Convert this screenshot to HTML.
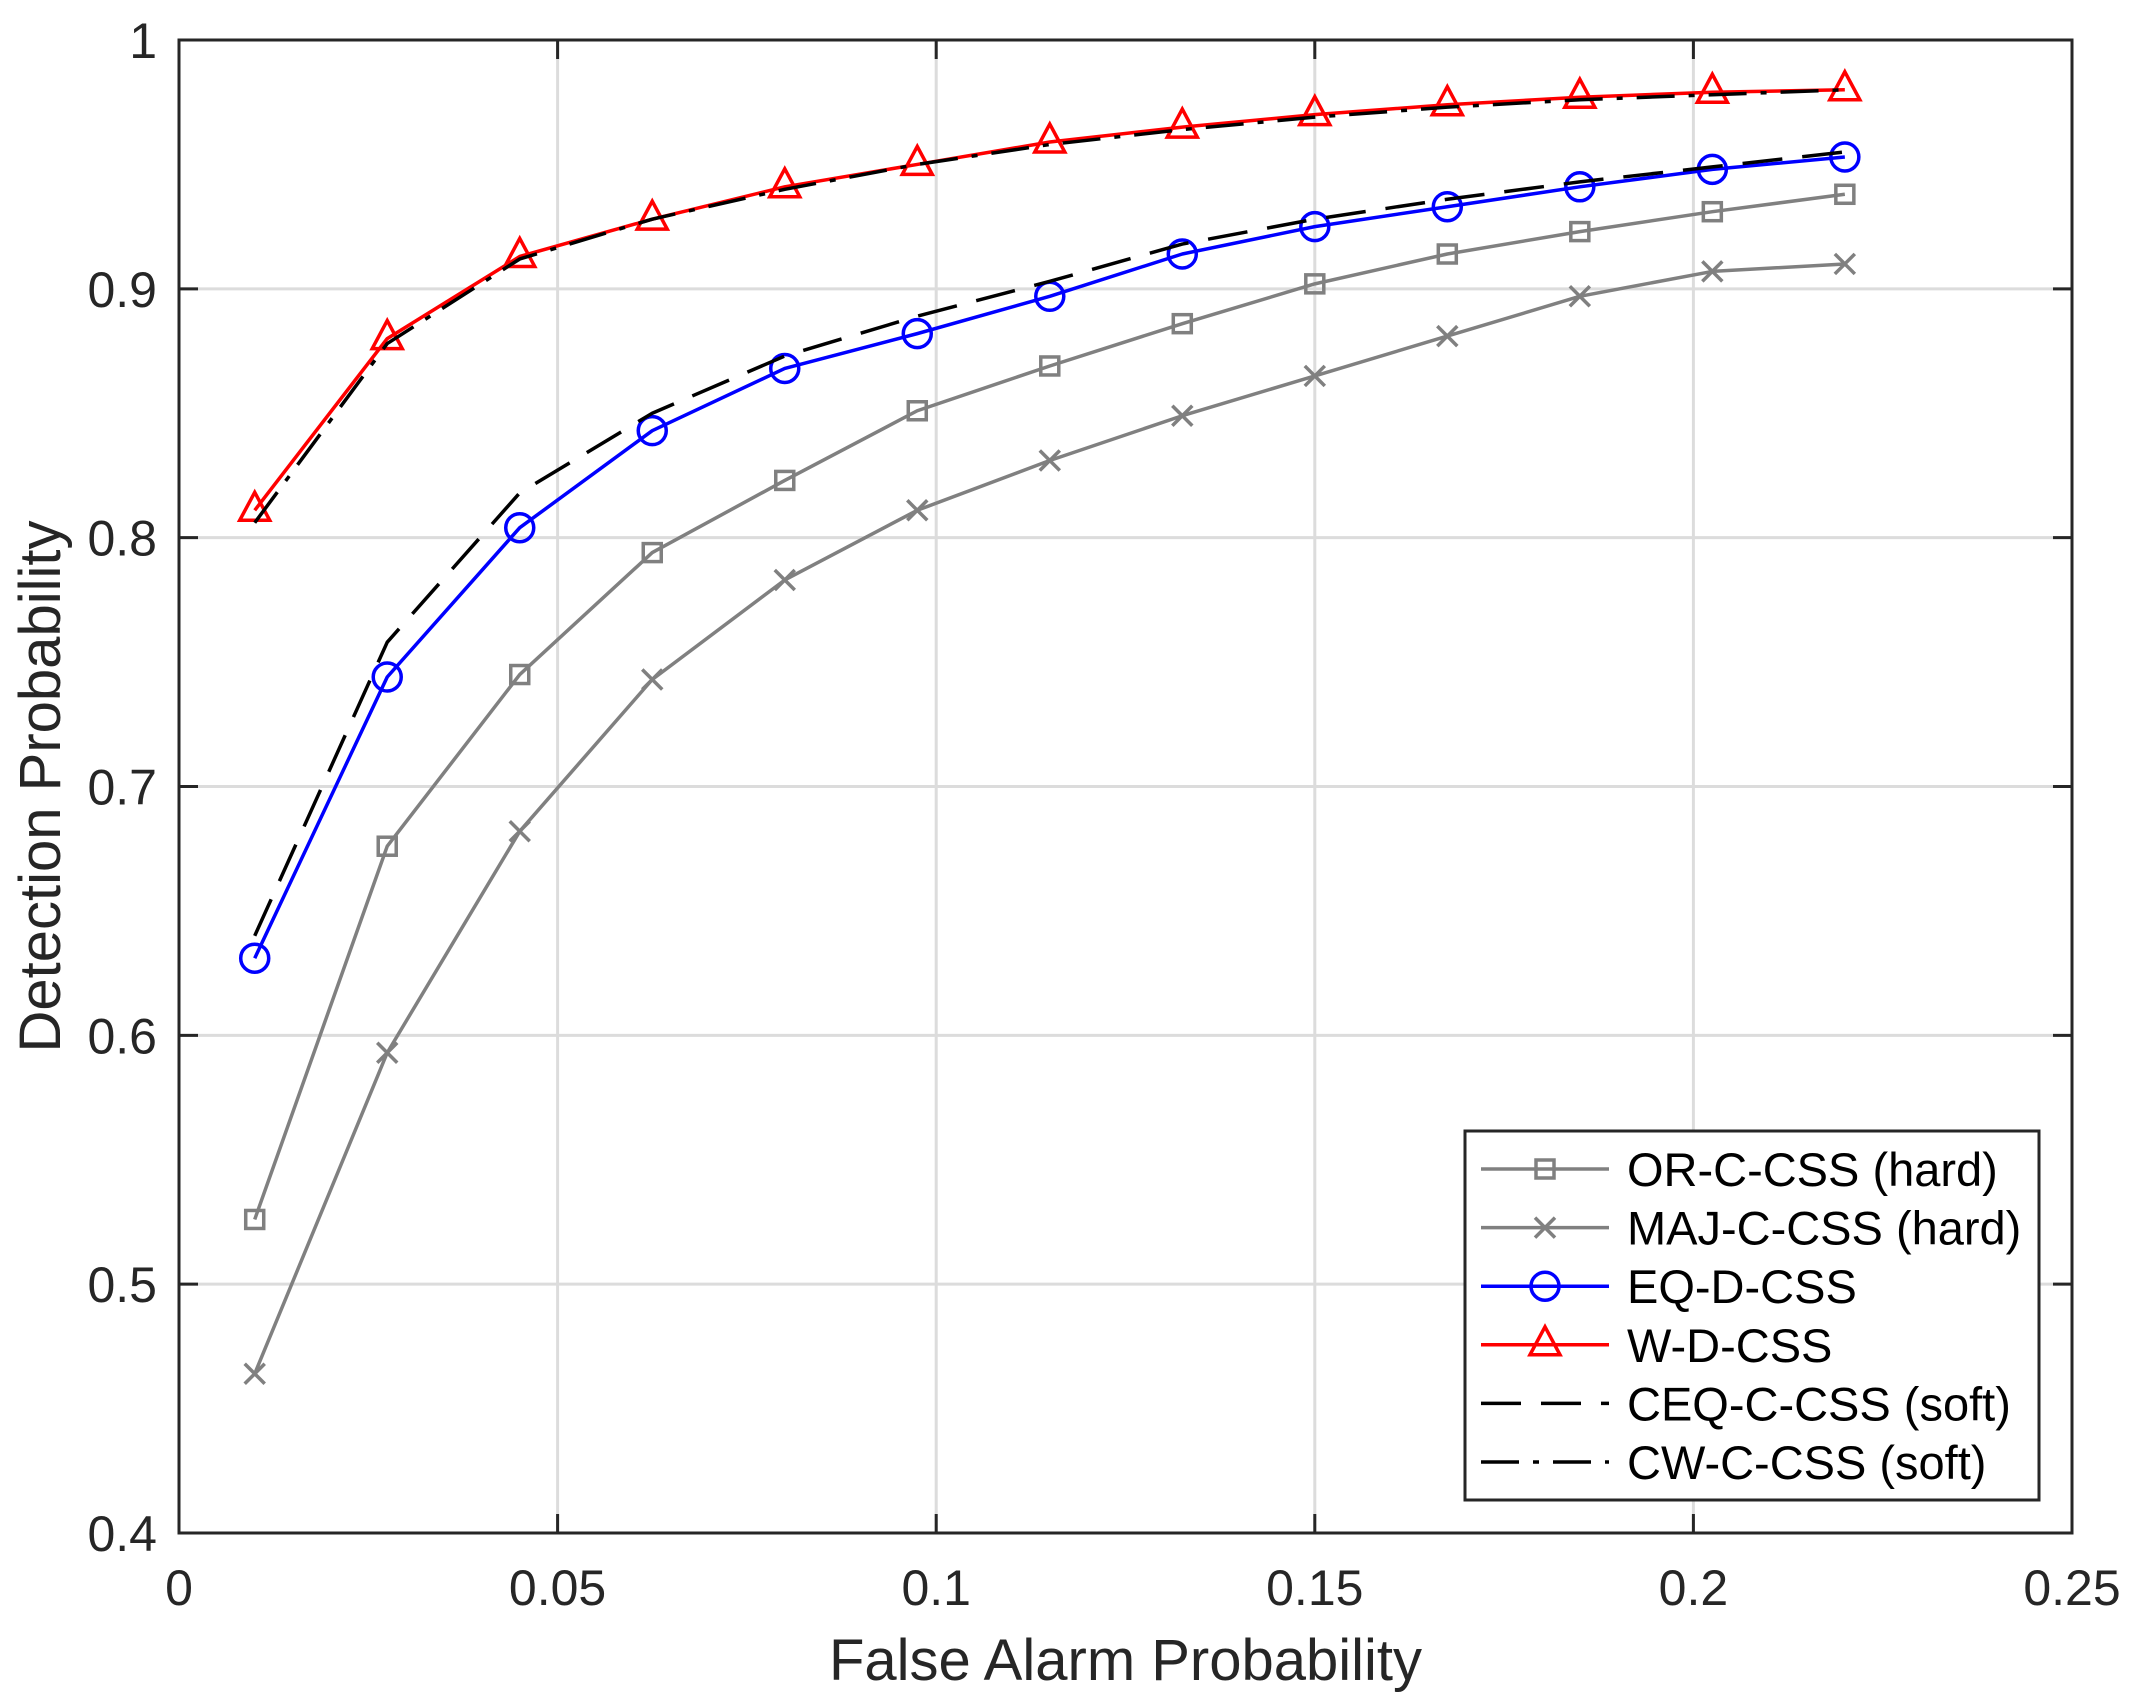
<!DOCTYPE html>
<html><head><meta charset="utf-8"><style>
html,body{margin:0;padding:0;background:#fff;}
svg{display:block;font-family:"Liberation Sans",Arial,sans-serif;}
</style></head><body>
<svg id="chart" width="2135" height="1706" viewBox="0 0 2135 1706" xmlns="http://www.w3.org/2000/svg">
<rect width="2135" height="1706" fill="#fff"/>
<g id="grid"></g><g id="series"></g><g id="axes"></g><g id="legend"></g>
</svg>
<script>
const xValues=[0.01,0.0275,0.045,0.0625,0.08,0.0975,0.115,0.1325,0.15,0.1675,0.185,0.2025,0.22];
const orHard=[0.526,0.676,0.745,0.794,0.823,0.851,0.869,0.886,0.902,0.914,0.923,0.931,0.938];
const majHard=[0.464,0.593,0.682,0.743,0.783,0.811,0.831,0.849,0.865,0.881,0.897,0.907,0.910];
const eqD=[0.631,0.744,0.804,0.843,0.868,0.882,0.897,0.914,0.925,0.933,0.941,0.948,0.953];
const wD=[0.811,0.880,0.913,0.928,0.941,0.950,0.959,0.965,0.970,0.974,0.977,0.979,0.980];
const ceqSoft=[0.640,0.758,0.818,0.850,0.873,0.889,0.903,0.918,0.928,0.936,0.943,0.949,0.955];
const cwSoft=[0.806,0.878,0.912,0.928,0.940,0.950,0.958,0.964,0.969,0.973,0.976,0.978,0.980];
const xTicks=[0,0.05,0.1,0.15,0.2,0.25];
const xTickLabels=["0","0.05","0.1","0.15","0.2","0.25"];
const yTicks=[0.4,0.5,0.6,0.7,0.8,0.9,1];
const yTickLabels=["0.4","0.5","0.6","0.7","0.8","0.9","1"];
const legendLabels=["OR-C-CSS (hard)","MAJ-C-CSS (hard)","EQ-D-CSS","W-D-CSS","CEQ-C-CSS (soft)","CW-C-CSS (soft)"];

const NS="http://www.w3.org/2000/svg";
const L=179,R=2072,T=40,B=1533;
const sx=v=>L+(v-0)/(0.25)*(R-L);
const sy=v=>B-(v-0.4)/(0.6)*(B-T);
function mk(tag,attrs,parent){const e=document.createElementNS(NS,tag);for(const k in attrs)e.setAttribute(k,attrs[k]);parent.appendChild(e);return e;}
const grid=document.getElementById('grid'),series=document.getElementById('series'),axes=document.getElementById('axes'),legend=document.getElementById('legend');

xTicks.forEach((t,i)=>{
  if(i>0&&i<xTicks.length-1){const g=mk('line',{x1:sx(t),x2:sx(t),y1:T,y2:B,stroke:'#dcdcdc','stroke-width':3},grid);
  
  }
  const tk=mk('line',{x1:sx(t),x2:sx(t),y1:B,y2:B-19,stroke:'#262626','stroke-width':3},axes);
  
  
  const tx=mk('text',{x:sx(t),y:1605,'text-anchor':'middle','font-size':50,fill:'#262626'},axes);
  tx.textContent=xTickLabels[i];
  
  
});
yTicks.forEach((t,i)=>{
  if(i>0&&i<yTicks.length-1){const g=mk('line',{x1:L,x2:R,y1:sy(t),y2:sy(t),stroke:'#dcdcdc','stroke-width':3},grid);
  
  }
  const tk=mk('line',{x1:L,x2:L+19,y1:sy(t),y2:sy(t),stroke:'#262626','stroke-width':3},axes);
  
  
  const tk2=mk('line',{x1:R,x2:R-19,y1:sy(t),y2:sy(t),stroke:'#262626','stroke-width':3},axes);
  
  
  const tx=mk('text',{x:157,y:sy(t)+18,'text-anchor':'end','font-size':50,fill:'#262626'},axes);
  tx.textContent=yTickLabels[i];
  
  
});
xTicks.forEach((t,i)=>{const tk=mk('line',{x1:sx(t),x2:sx(t),y1:T,y2:T+19,stroke:'#262626','stroke-width':3},axes);
  
  });
const frame=mk('rect',{x:L,y:T,width:R-L,height:B-T,fill:'none',stroke:'#262626','stroke-width':3},axes);


const xt=mk('text',{x:(L+R)/2,y:1680,'text-anchor':'middle','font-size':58,fill:'#262626'},axes);
xt.textContent='False Alarm Probability';


const yt=mk('text',{x:0,y:0,'text-anchor':'middle','font-size':58,fill:'#262626',transform:'translate(60,'+((T+B)/2)+') rotate(-90)'},axes);
yt.textContent='Detection Probability';



function marker(type,x,y,color,parent){
  let e;
  if(type==='square'){e=mk('rect',{x:x-9,y:y-9,width:18,height:18,fill:'none',stroke:color,'stroke-width':3.5},parent);}
  else if(type==='x'){e=mk('path',{d:`M${x-10},${y-10}L${x+10},${y+10}M${x-10},${y+10}L${x+10},${y-10}`,fill:'none',stroke:color,'stroke-width':3.5},parent);}
  else if(type==='circle'){e=mk('circle',{cx:x,cy:y,r:14,fill:'none',stroke:color,'stroke-width':3.5},parent);}
  else if(type==='tri'){e=mk('path',{d:`M${x},${y-18}L${x+15},${y+10}L${x-15},${y+10}Z`,fill:'none',stroke:color,'stroke-width':3.5},parent);}
  return e;
}
const defs=[
 {vals:orHard,color:'#808080',m:'square',dash:null,name:'or-c-css-hard'},
 {vals:majHard,color:'#808080',m:'x',dash:null,name:'maj-c-css-hard'},
 {vals:eqD,color:'#0000ff',m:'circle',dash:null,name:'eq-d-css'},
 {vals:wD,color:'#ff0000',m:'tri',dash:null,name:'w-d-css'},
 {vals:ceqSoft,color:'#000',m:null,dash:'40,20',name:'ceq-c-css-soft'},
 {vals:cwSoft,color:'#000',m:null,dash:'38,14,6,14',name:'cw-c-css-soft'}
];
defs.forEach(d=>{
  const g=mk('g',{},series);
  
  
  const pts=d.vals.map((v,i)=>sx(xValues[i])+','+sy(v)).join(' ');
  const a={points:pts,fill:'none',stroke:d.color,'stroke-width':3.5,'stroke-linejoin':'round'};
  if(d.dash)a['stroke-dasharray']=d.dash;
  const pl=mk('polyline',a,g);
  
  
  if(d.m)d.vals.forEach((v,i)=>{const e=marker(d.m,sx(xValues[i]),sy(v),d.color,g);
    
    });
});
// legend
const lb=mk('rect',{x:1465,y:1131,width:574,height:369,fill:'#fff',stroke:'#262626','stroke-width':3},legend);


defs.forEach((d,i)=>{
  const y=1169+i*58.6;
  const g=mk('g',{},legend);
  
  
  const a={x1:1481,x2:1609,y1:y,y2:y,stroke:d.color,'stroke-width':3.5};
  if(d.dash)a['stroke-dasharray']=d.dash;
  mk('line',a,g);
  if(d.m)marker(d.m,1545,y,d.color,g);
  const t=mk('text',{x:1627,y:y+17,'font-size':47,fill:'#000'},g);
  t.textContent=legendLabels[i];
});
</script>
</body></html>
